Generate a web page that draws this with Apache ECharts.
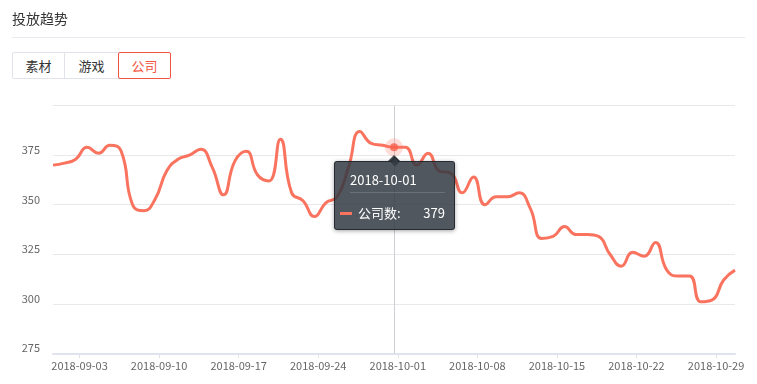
<!DOCTYPE html>
<html>
<head>
<meta charset="utf-8">
<script src="https://cdn.jsdelivr.net/npm/echarts@6/dist/echarts.min.js"></script>
<style>
  html, body { margin:0; padding:0; background:#fff; }
  body { width:757px; height:384px; position:relative; overflow:hidden;
         font-family: "Microsoft YaHei", "Noto Sans CJK SC", "Noto Sans", sans-serif; }
  #title { position:absolute; left:12px; top:8px; font-size:14px; line-height:20px; color:#333; z-index:2; }
  #divider { position:absolute; left:12px; top:37px; width:733px; height:1px; background:#e9ebf0; z-index:2; }
  #tabs { position:absolute; left:12px; top:52px; height:27px; display:flex; z-index:2; }
  .tab { box-sizing:border-box; height:27px; line-height:25px; font-size:13px; color:#333;
         border:1px solid #e0e3ea; text-align:center; margin-left:-1px; position:relative; background:#fff; }
  .tab:first-child { margin-left:0; border-radius:2px 0 0 2px; }
  .tab.active { border-color:#f2553f; color:#f2553f; z-index:1; border-radius:2px; }
  #chart { position:absolute; left:0; top:0; width:757px; height:384px; }
  #tiparrow { position:absolute; width:0; height:0; display:none;
              border-left:6px solid transparent; border-right:6px solid transparent;
              border-bottom:6px solid rgba(45,51,59,0.88); z-index:99999; pointer-events:none; }
</style>
</head>
<body>
<div id="chart"></div>
<div id="title">投放趋势</div>
<div id="divider"></div>
<div id="tabs">
  <div class="tab" style="width:53px">素材</div>
  <div class="tab" style="width:55px">游戏</div>
  <div class="tab active" style="width:53px">公司</div>
</div>
<div id="tiparrow"></div>
<script>
// ---- data ----
const dates = [
  '2018-09-01','2018-09-02','2018-09-03','2018-09-04','2018-09-05','2018-09-06','2018-09-07',
  '2018-09-08','2018-09-09','2018-09-10','2018-09-11','2018-09-12','2018-09-13','2018-09-14',
  '2018-09-15','2018-09-16','2018-09-17','2018-09-18','2018-09-19','2018-09-20','2018-09-21',
  '2018-09-22','2018-09-23','2018-09-24','2018-09-25','2018-09-26','2018-09-27','2018-09-28',
  '2018-09-29','2018-09-30','2018-10-01','2018-10-02','2018-10-03','2018-10-04','2018-10-05',
  '2018-10-06','2018-10-07','2018-10-08','2018-10-09','2018-10-10','2018-10-11','2018-10-12',
  '2018-10-13','2018-10-14','2018-10-15','2018-10-16','2018-10-17','2018-10-18','2018-10-19',
  '2018-10-20','2018-10-21','2018-10-22','2018-10-23','2018-10-24','2018-10-25','2018-10-26',
  '2018-10-27','2018-10-28','2018-10-29','2018-10-30','2018-10-31'
];
const companyCounts = [
  370, 371, 373, 379, 376, 380, 377,
  350, 347, 353, 367, 373, 375, 378,
  369, 355, 372, 377, 365, 362, 383,
  356, 352, 344, 351, 354, 369, 387,
  381, 380, 379, 379, 370, 376, 367,
  366, 356, 364, 350, 354, 354, 356,
  348, 333, 334, 339, 335, 335, 334,
  325, 319, 326, 324, 331, 317, 314,
  314, 301, 302, 312, 317
];
const xTickLabels = ['2018-09-03','2018-09-10','2018-09-17','2018-09-24','2018-10-01',
                     '2018-10-08','2018-10-15','2018-10-22','2018-10-29'];
const yMin = 275, yMax = 400, yStep = 25;
const seriesName = '公司数';
const highlightDate = '2018-10-01';

// ---- chart ----
const LINE = '#f9735f';
const TIP_BG = 'rgba(50,57,66,0.85)';
const FONT = '"Microsoft YaHei", "Noto Sans CJK SC", "Noto Sans", sans-serif';
const TICK_SHIFT = 1 / 3; // tick marks sit 8h after local midnight in the original
const tickValues = xTickLabels.map(d => dates.indexOf(d) + TICK_SHIFT);
const lineData = dates.map((d, i) => [i, companyCounts[i]]);
const hi = dates.indexOf(highlightDate);
const hiPoint = [[hi, companyCounts[hi]]];

const chart = echarts.init(document.getElementById('chart'), null, { renderer: 'canvas' });
chart.setOption({
  animation: false,
  textStyle: { fontFamily: FONT },
  grid: { left: 53, right: 22, top: 105.7, bottom: 30.7, containLabel: false },
  tooltip: {
    trigger: 'item',
    triggerOn: 'none',
    alwaysShowContent: true,
    position: 'bottom',
    confine: false,
    transitionDuration: 0,
    padding: 0,
    backgroundColor: TIP_BG,
    borderColor: 'rgba(35,40,46,0.9)',
    borderWidth: 1,
    extraCssText: 'border-radius:3px;box-shadow:0 1px 4px rgba(0,0,0,0.35);',
    textStyle: { color: '#fff', fontFamily: FONT },
    formatter: function (p) {
      const idx = p.data[0];
      return '<div class="tipbox" style="width:119px;font-family:' + FONT.replace(/"/g, "'") + ';color:#fff">' +
        '<div style="padding:8px 9px 0 15px;font-size:13px;line-height:20px;">' + dates[idx] + '</div>' +
        '<div style="margin:2px 9px 0 15px;height:0;border-top:1px solid rgba(255,255,255,0.15)"></div>' +
        '<div style="padding:10px 9px 6px 5px;font-size:13px;line-height:20px;display:flex;align-items:center;">' +
          '<span style="display:inline-block;width:12px;height:3px;background:' + LINE + ';margin-right:6px"></span>' +
          '<span>' + seriesName + ':</span>' +
          '<span style="margin-left:auto">' + p.data[1] + '</span>' +
        '</div></div>';
    }
  },
  xAxis: {
    type: 'value',
    min: 0,
    max: dates.length - 1,
    axisLine: { show: true, lineStyle: { color: '#dfe3ee', width: 2 } },
    axisTick: { show: true, length: 5, customValues: tickValues, lineStyle: { color: '#dfe3ee', width: 1 } },
    axisLabel: {
      customValues: tickValues,
      color: '#666', fontSize: 11, margin: 7,
      formatter: v => dates[Math.floor(v + 1e-6)]
    },
    splitLine: { show: false }
  },
  yAxis: {
    type: 'value',
    min: yMin, max: yMax, interval: yStep,
    axisLine: { show: false },
    axisTick: { show: false },
    axisLabel: { color: '#666', fontSize: 11, margin: 13, showMaxLabel: false,
                 verticalAlign: 'bottom', lineHeight: 10 },
    splitLine: { lineStyle: { color: '#e8e8e8', width: 1 } }
  },
  series: [
    {
      name: seriesName,
      type: 'line',
      data: lineData,
      smooth: 0.5,
      showSymbol: false,
      symbol: 'none',
      silent: true,
      tooltip: { show: false },
      lineStyle: { color: LINE, width: 3 },
      itemStyle: { color: LINE },
      markLine: {
        silent: true,
        symbol: ['none', 'none'],
        label: { show: false },
        lineStyle: { color: '#cfcfd6', width: 1, type: 'solid' },
        data: [{ xAxis: hi }],
        z: 1
      },
      z: 2
    },
    {
      name: 'halo',
      type: 'scatter',
      data: hiPoint,
      symbolSize: 18,
      silent: true,
      tooltip: { show: false },
      itemStyle: { color: 'rgba(249,115,95,0.3)' },
      z: 10
    },
    {
      name: seriesName,
      type: 'scatter',
      data: hiPoint,
      symbolSize: 8,
      itemStyle: { color: '#f7604c' },
      z: 11
    }
  ]
});
chart.dispatchAction({ type: 'showTip', seriesIndex: 2, dataIndex: 0 });

// pointer arrow above the tooltip, aligned to the highlighted point
(function () {
  const arrow = document.getElementById('tiparrow');
  const box = document.querySelector('.tipbox');
  const px = chart.convertToPixel({ gridIndex: 0 }, hiPoint[0]);
  let top = px[1] + 8;
  if (box) {
    const r = box.getBoundingClientRect();
    top = r.top - 1 - 6;
  }
  arrow.style.left = (px[0] - 6) + 'px';
  arrow.style.top = top + 'px';
  arrow.style.display = 'block';
})();
</script>
</body>
</html>
